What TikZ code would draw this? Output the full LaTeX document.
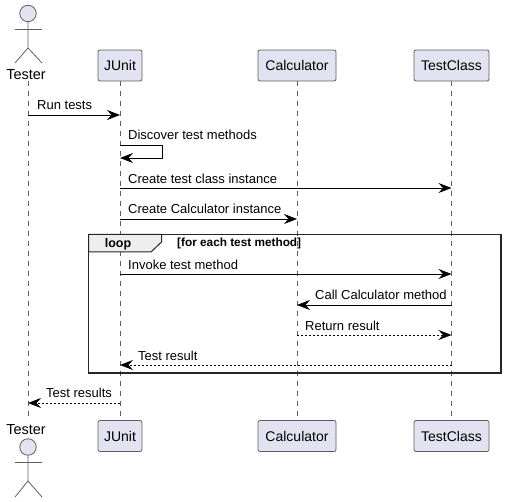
\documentclass[tikz,border=0pt]{standalone}
\usepackage{fontspec}
\setmainfont{Liberation Sans}
\usetikzlibrary{arrows.meta}
\definecolor{partfill}{HTML}{E2E2F0}
\definecolor{partline}{HTML}{5F5F5F}
\definecolor{tabfill}{HTML}{EEEEEE}
\tikzset{
	part/.style={draw=partline,fill=partfill,rounded corners=2pt,line width=0.8pt,minimum height=31pt,inner sep=0pt,font=\fontsize{14}{16}\selectfont},
	lifeline/.style={draw=partline,line width=0.7pt,dash pattern=on 5pt off 5pt},
	limb/.style={draw=partline,line width=0.8pt},
	msg/.style={draw=black,line width=0.8pt,-{Stealth[length=13pt,width=10pt,inset=4.5pt]}},
	reply/.style={msg,dash pattern=on 2pt off 2pt},
	lbl/.style={anchor=base west,inner sep=0pt,font=\fontsize{13}{15}\selectfont},
	actorname/.style={inner sep=0pt,font=\fontsize{14.5}{16}\selectfont}
}
\begin{document}
\begin{tikzpicture}[x=1pt,y=-1pt]
	\useasboundingbox (0,0) rectangle (506,502);

	% participants
	\coordinate (tester) at (28,81);
	\coordinate (testerb) at (28,421);
	\node[part,minimum width=44pt] (junit) at (120,65.5) {JUnit};
	\node[part,minimum width=78pt] (calc) at (297,65.5) {Calculator};
	\node[part,minimum width=75pt] (tclass) at (451.5,65.5) {TestClass};
	\node[part,minimum width=44pt] (junitb) at (120,436) {JUnit};
	\node[part,minimum width=78pt] (calcb) at (297,436) {Calculator};
	\node[part,minimum width=75pt] (tclassb) at (451.5,436) {TestClass};

	% lifelines
	\draw[lifeline] (tester) -- (testerb);
	\draw[lifeline] (junit) -- (junitb);
	\draw[lifeline] (calc) -- (calcb);
	\draw[lifeline] (tclass) -- (tclassb);

	% actor, top
	\node[actorname] (tname) at (26,75) {Tester};
	\node[circle,draw=partline,fill=partfill,line width=0.8pt,minimum size=16.5pt,inner sep=0pt] (thead) at (28,13.5) {};
	\draw[limb] (thead) -- (28,48) -- (15,63);
	\draw[limb] (28,48) -- (42,63);
	\draw[limb] (15,29) -- (42,29);

	% actor, bottom
	\node[actorname] (tnameb) at (26,430) {Tester};
	\node[circle,draw=partline,fill=partfill,line width=0.8pt,minimum size=16.5pt,inner sep=0pt] (theadb) at (28,447) {};
	\draw[limb] (theadb) -- (28,481) -- (15,497);
	\draw[limb] (28,481) -- (42,497);
	\draw[limb] (15,462) -- (42,462);

	% loop frame
	\draw[black!85,line width=1.5pt] (88.5,234.5) rectangle (501,373);
	\draw[black!85,line width=1pt,fill=tabfill] (88.5,234.5) -- (161.5,234.5) -- (161.5,242) -- (151,252) -- (88.5,252) -- cycle;
	\node[font=\fontsize{12.5}{14}\selectfont\bfseries,inner sep=0pt] (looptag) at (118,244.5) {loop};
	\node[lbl,font=\fontsize{11.8}{13}\selectfont\bfseries] (loopcond) at (177,247) {[for each test method]};

	% messages
	\draw[msg] (tester |- 0,115) -- (junit |- 0,115);
	\node[lbl] (m1) at (37,110) {Run tests};
	\draw[msg] (junit |- 0,145) -- (162,145) -- (162,158) -- (junit |- 0,158);
	\node[lbl] (m2) at (128,140) {Discover test methods};
	\draw[msg] (junit |- 0,188) -- (tclass |- 0,188);
	\node[lbl] (m3) at (128,184) {Create test class instance};
	\draw[msg] (junit |- 0,219) -- (calc |- 0,219);
	\node[lbl] (m4) at (128,214) {Create Calculator instance};
	\draw[msg] (junit |- 0,274) -- (tclass |- 0,274);
	\node[lbl] (m5) at (128,270) {Invoke test method};
	\draw[msg] (tclass |- 0,305) -- (calc |- 0,305);
	\node[lbl] (m6) at (315,300) {Call Calculator method};
	\draw[reply] (calc |- 0,335) -- (tclass |- 0,335);
	\node[lbl] (m7) at (305,331) {Return result};
	\draw[reply] (tclass |- 0,365) -- (junit |- 0,365);
	\node[lbl] (m8) at (138,361) {Test result};
	\draw[reply] (junit |- 0,403) -- (tester |- 0,403);
	\node[lbl] (m9) at (46,398) {Test results};
\end{tikzpicture}
\end{document}
